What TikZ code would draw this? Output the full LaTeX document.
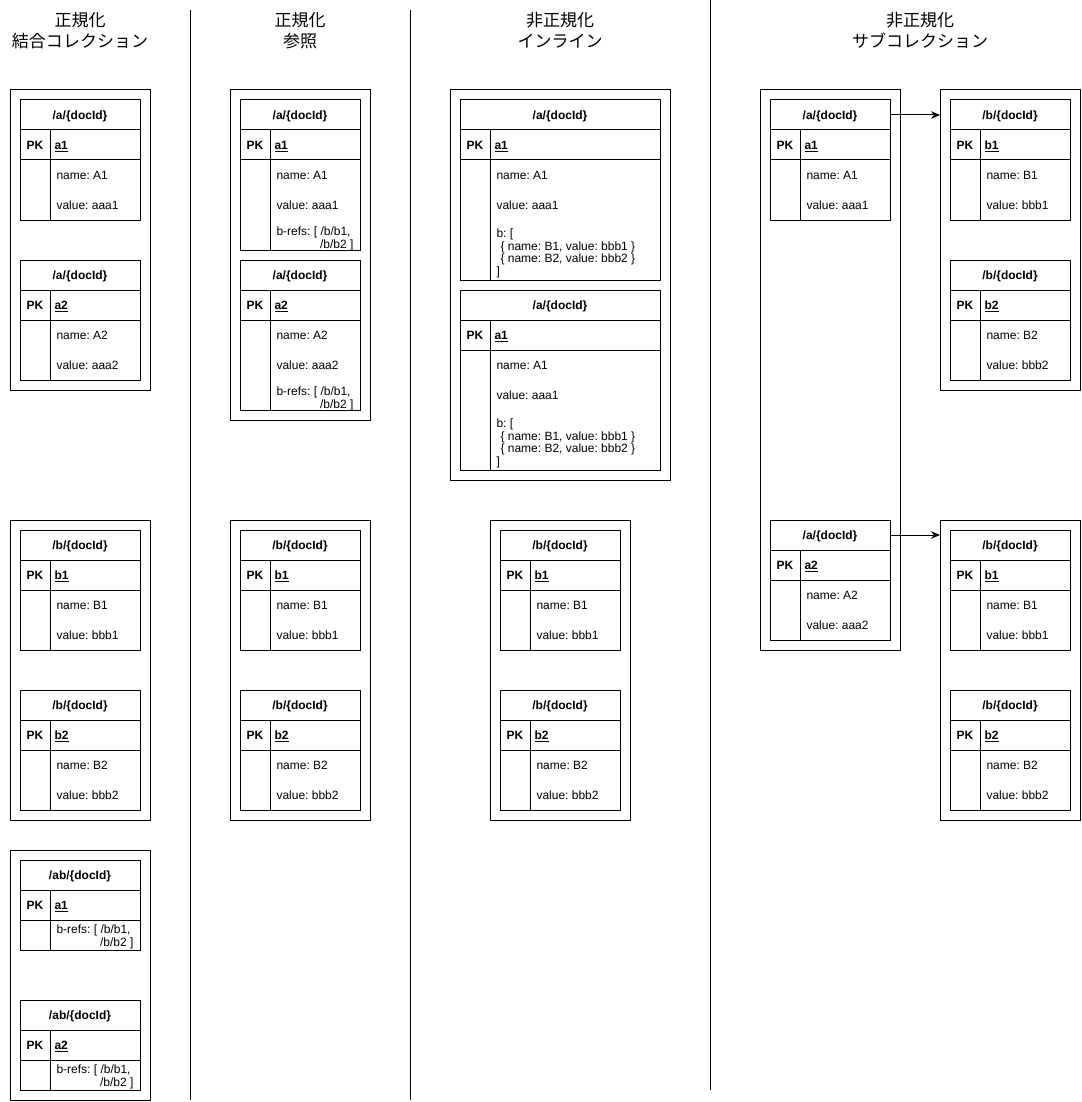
\documentclass[tikz,border=0pt]{standalone}
\usepackage{fontspec}
\setmainfont{Liberation Sans}
\newfontfamily\cjk{Noto Sans CJK JP}
\usetikzlibrary{arrows.meta}
\frenchspacing
\tikzset{
 hdr/.style={draw, rectangle, minimum height=30pt, inner sep=0pt, outer sep=0pt, text height=8.6pt, text depth=0pt, font=\fontsize{12}{14}\selectfont\bfseries},
 pk/.style={inner sep=0pt, anchor=base, yshift=-4.3pt, font=\fontsize{12}{14}\selectfont\bfseries},
 keyt/.style={inner sep=0pt, anchor=base west, yshift=-4.3pt, font=\fontsize{12}{14}\selectfont\bfseries},
 txt/.style={inner sep=0pt, anchor=base west, yshift=-4.3pt, font=\fontsize{12}{14}\selectfont},
 txtr/.style={inner sep=0pt, anchor=base east, yshift=-4.3pt, font=\fontsize{12}{14}\selectfont},
 box/.style={draw, rectangle, inner sep=0pt, outer sep=0pt, anchor=north west},
 ttl/.style={inner sep=0pt, anchor=base, yshift=-6.5pt, font=\cjk\fontsize{17}{21}\selectfont},
 arr/.style={-{Stealth[length=9pt,width=7.5pt]}}
}
% #1 prefix, #2 x, #3 y, #4 width, #5 body height, #6 header, #7 key
\newcommand\mytable[7]{%
  \node[hdr, minimum width=#4pt] (#1h) at ({#2+#4/2},{#3+15}) {#6};
  \draw ({#2},{#3+30}) rectangle ({#2+#4},{#3+60+#5});
  \draw ({#2},{#3+60}) -- ({#2+#4},{#3+60});
  \draw ({#2+30},{#3+30}) -- ({#2+30},{#3+60+#5});
  \node[pk] (#1p) at ({#2+15},{#3+45}) {PK};
  \node[keyt] (#1k) at ({#2+34},{#3+45}) {\underline{#7}};
}
% #1 prefix, #2 x, #3 body top, #4 name, #5 value
\newcommand\mynv[5]{%
  \node[txt] (#1n) at ({#2+36},{#3+15}) {#4};
  \node[txt] (#1v) at ({#2+36},{#3+45}) {#5};
}
% #1 prefix, #2 x, #3 y of first line, #4 right edge
\newcommand\myrefs[4]{%
  \node[txt] (#1r) at ({#2+36},{#3}) {b-refs: [ /b/b1,};
  \node[txtr] (#1s) at ({#4-6},{#3+13}) {/b/b2 ]};
}
% #1 prefix, #2 x, #3 body top
\newcommand\myinline[3]{%
  \node[txt] (#1i0) at ({#2+36},{#3+73}) {b: [};
  \node[txt] (#1i1) at ({#2+40},{#3+86}) {\{ name: B1, value: bbb1 \}};
  \node[txt] (#1i2) at ({#2+40},{#3+98}) {\{ name: B2, value: bbb2 \}};
  \node[txt] (#1i3) at ({#2+36},{#3+111}) {]};
}
\begin{document}
\begin{tikzpicture}[x=1pt,y=-1pt,line width=1pt]
\useasboundingbox (0,0) rectangle (1081,1102);

% titles
\node[ttl] (t1a) at (80,20) {正規化};
\node[ttl] (t1b) at (80,41.5) {結合コレクション};
\node[ttl] (t2a) at (300,20) {正規化};
\node[ttl] (t2b) at (300,41.5) {参照};
\node[ttl] (t3a) at (560,20) {非正規化};
\node[ttl] (t3b) at (560,41.5) {インライン};
\node[ttl] (t4a) at (920,20) {非正規化};
\node[ttl] (t4b) at (920,41.5) {サブコレクション};

% separators
\draw (190,10) -- (190,1100);
\draw (410,10) -- (410,1100);
\draw (710,0) -- (710,1090);

% ---------- column 1 ----------
\node[box, minimum width=140pt, minimum height=300pt] (c1a) at (10,90) {};
\mytable{ca1}{20}{100}{120}{60}{/a/\{docId\}}{a1}
\mynv{ca1}{20}{160}{name: A1}{value: aaa1}
\mytable{ca2}{20}{260}{120}{60}{/a/\{docId\}}{a2}
\mynv{ca2}{20}{320}{name: A2}{value: aaa2}

\node[box, minimum width=140pt, minimum height=300pt] (c1b) at (10,520) {};
\mytable{cb1}{20}{530}{120}{60}{/b/\{docId\}}{b1}
\mynv{cb1}{20}{590}{name: B1}{value: bbb1}
\mytable{cb2}{20}{690}{120}{60}{/b/\{docId\}}{b2}
\mynv{cb2}{20}{750}{name: B2}{value: bbb2}

\node[box, minimum width=140pt, minimum height=250pt] (c1c) at (10,850) {};
\mytable{cab1}{20}{860}{120}{30}{/ab/\{docId\}}{a1}
\myrefs{cab1}{20}{929}{140}
\mytable{cab2}{20}{1000}{120}{30}{/ab/\{docId\}}{a2}
\myrefs{cab2}{20}{1069}{140}

% ---------- column 2 ----------
\node[box, minimum width=140pt, minimum height=330pt] (c2a) at (230,90) {};
\mytable{ra1}{240}{100}{120}{90}{/a/\{docId\}}{a1}
\mynv{ra1}{240}{160}{name: A1}{value: aaa1}
\myrefs{ra1}{240}{231}{360}
\mytable{ra2}{240}{260}{120}{90}{/a/\{docId\}}{a2}
\mynv{ra2}{240}{320}{name: A2}{value: aaa2}
\myrefs{ra2}{240}{391}{360}

\node[box, minimum width=140pt, minimum height=300pt] (c2b) at (230,520) {};
\mytable{rb1}{240}{530}{120}{60}{/b/\{docId\}}{b1}
\mynv{rb1}{240}{590}{name: B1}{value: bbb1}
\mytable{rb2}{240}{690}{120}{60}{/b/\{docId\}}{b2}
\mynv{rb2}{240}{750}{name: B2}{value: bbb2}

% ---------- column 3 ----------
\node[box, minimum width=220pt, minimum height=390pt] (c3a) at (450,90) {};
\mytable{ia1}{460}{100}{200}{120}{/a/\{docId\}}{a1}
\mynv{ia1}{460}{160}{name: A1}{value: aaa1}
\myinline{ia1}{460}{160}
\mytable{ia2}{460}{290}{200}{120}{/a/\{docId\}}{a1}
\mynv{ia2}{460}{350}{name: A1}{value: aaa1}
\myinline{ia2}{460}{350}

\node[box, minimum width=140pt, minimum height=300pt] (c3b) at (490,520) {};
\mytable{ib1}{500}{530}{120}{60}{/b/\{docId\}}{b1}
\mynv{ib1}{500}{590}{name: B1}{value: bbb1}
\mytable{ib2}{500}{690}{120}{60}{/b/\{docId\}}{b2}
\mynv{ib2}{500}{750}{name: B2}{value: bbb2}

% ---------- column 4 ----------
\node[box, minimum width=140pt, minimum height=560pt] (c4a) at (760,90) {};
\mytable{sa1}{770}{100}{120}{60}{/a/\{docId\}}{a1}
\mynv{sa1}{770}{160}{name: A1}{value: aaa1}
\mytable{sa2}{770}{520}{120}{60}{/a/\{docId\}}{a2}
\mynv{sa2}{770}{580}{name: A2}{value: aaa2}

\node[box, minimum width=140pt, minimum height=300pt] (c4b) at (940,90) {};
\mytable{sb1}{950}{100}{120}{60}{/b/\{docId\}}{b1}
\mynv{sb1}{950}{160}{name: B1}{value: bbb1}
\mytable{sb2}{950}{260}{120}{60}{/b/\{docId\}}{b2}
\mynv{sb2}{950}{320}{name: B2}{value: bbb2}

\node[box, minimum width=140pt, minimum height=300pt] (c4c) at (940,520) {};
\mytable{sc1}{950}{530}{120}{60}{/b/\{docId\}}{b1}
\mynv{sc1}{950}{590}{name: B1}{value: bbb1}
\mytable{sc2}{950}{690}{120}{60}{/b/\{docId\}}{b2}
\mynv{sc2}{950}{750}{name: B2}{value: bbb2}

% arrows
\draw[arr] (sa1h.east) -- (sa1h.east -| c4b.west);
\draw[arr] (sa2h.east) -- (sa2h.east -| c4c.west);
\end{tikzpicture}
\end{document}
